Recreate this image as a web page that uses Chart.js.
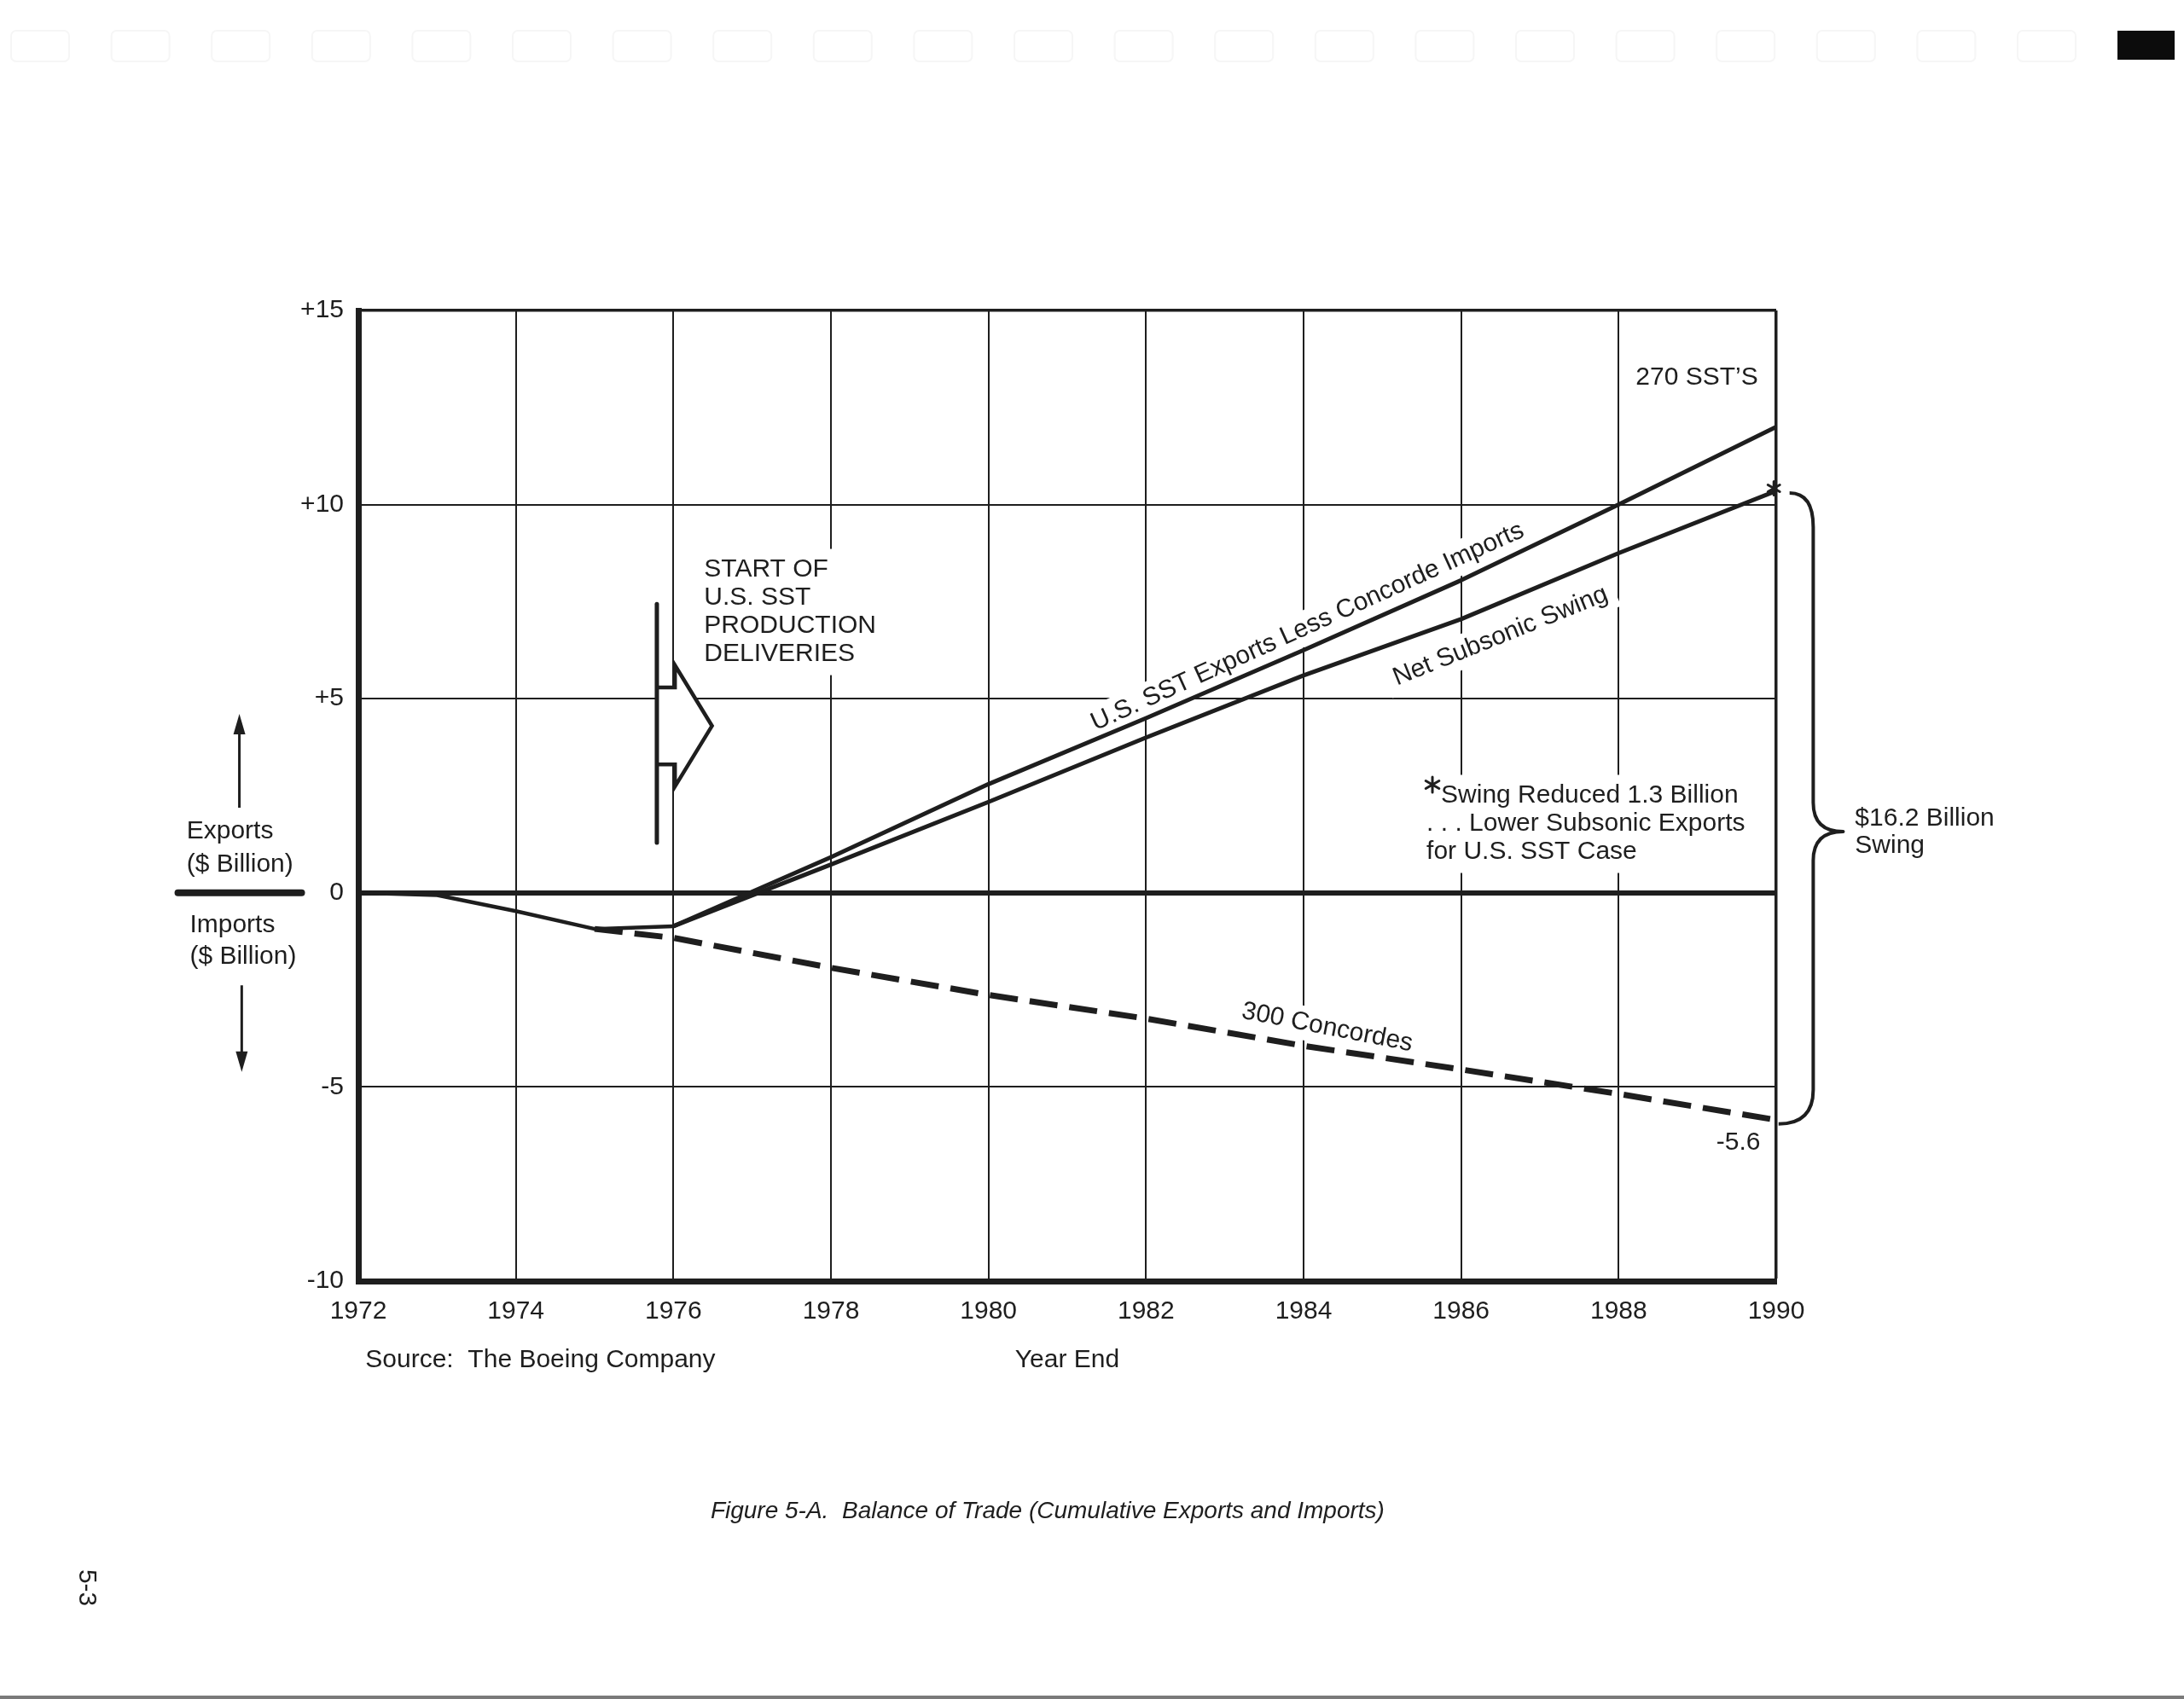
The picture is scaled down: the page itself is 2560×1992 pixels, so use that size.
<!DOCTYPE html>
<html>
<head>
<meta charset="utf-8">
<title>Balance of Trade</title>
<script src="https://cdn.jsdelivr.net/npm/chart.js@4.4.0/dist/chart.umd.min.js"></script>
<style>
  html, body { margin: 0; padding: 0; background: #fff; }
  canvas { display: block; }
</style>
</head>
<body>
<canvas id="trade" width="2560" height="1992"></canvas>
<script>
// ---- data ($ billion, cumulative) ----
const yearTicks = [1972, 1974, 1976, 1978, 1980, 1982, 1984, 1986, 1988, 1990];
const valueTicks = [-10, -5, 0, 5, 10, 15];

const earlyYears = [1972, 1973, 1974, 1975, 1976];
const earlyValues = [0, -0.06, -0.47, -0.93, -0.86];

const sstYears = [1976, 1978, 1980, 1982, 1984, 1986, 1988, 1990];
const sstValues = [-0.86, 0.92, 2.8, 4.5, 6.25, 8.05, 10.0, 12.0];
const netSwingValues = [-0.86, 0.73, 2.34, 4.0, 5.6, 7.05, 8.75, 10.35];

const concordeYears = [1975, 1976, 1978, 1980, 1982, 1984, 1986, 1988, 1990];
const concordeValues = [-0.93, -1.16, -1.93, -2.63, -3.24, -3.94, -4.55, -5.18, -5.85];

// ---- annotation placement (in year / value units) ----
const INK = '#1e1e1e';
const FAMILY = '"Liberation Sans", Arial, sans-serif';
const TEXT = '30px ' + FAMILY;

const textBlocks = [
  { lines: ['START OF', 'U.S. SST', 'PRODUCTION', 'DELIVERIES'], year: 1976.39, value: 8.32, align: 'left', mask: true },
  { lines: ['270 SST\u2019S'], year: 1989.77, value: 13.26, align: 'right' },
  { lines: ['-5.6'], year: 1989.8, value: -6.44, align: 'right' },
  { lines: ['Swing Reduced 1.3 Billion', '. . . Lower Subsonic Exports', 'for U.S. SST Case'], year: 1985.56, value: 2.5, align: 'left', mask: true, star: true },
  { lines: ['$16.2 Billion', 'Swing'], year: 1991.0, value: 1.92, align: 'left', gap: 32 },
  { lines: ['Exports', '($ Billion)'], year: 1969.82, value: 1.58, align: 'left', gap: 39 },
  { lines: ['Imports', '($ Billion)'], year: 1969.86, value: -0.83, align: 'left', gap: 37 },
  { lines: ['Source:  The Boeing Company'], year: 1972.09, value: -12.04, align: 'left' },
  { lines: ['Year End'], year: 1981.0, value: -12.04, align: 'center' },
  { lines: ['Figure 5-A.  Balance of Trade (Cumulative Exports and Imports)'], year: 1980.75, value: -15.93, align: 'center', font: 'italic 28px ' + FAMILY }
];

const slantLabels = [
  { text: 'U.S. SST Exports Less Concorde Imports', year: 1984.05, value: 6.85, angle: -24.4 },
  { text: 'Net Subsonic Swing', year: 1986.5, value: 6.61, angle: -22 },
  { text: '300 Concordes', year: 1984.3, value: -3.47, angle: 11 }
];

const startArrow = { barYear: 1975.79, barTop: 7.44, barBottom: 1.29, baseYear: 1976.02, tipYear: 1976.49, center: 4.3, shaft: 0.99, head: 1.56 };
const sideKey = { barFrom: 1969.71, barTo: 1971.28, upYear: 1970.49, upFrom: 2.19, upTo: 4.61, downYear: 1970.52, downFrom: -2.38, downTo: -4.61 };
const brace = { startYear: 1990.17, spineYear: 1990.47, tipYear: 1990.85, endYear: 1990.03, top: 10.3, tip: 1.58, bottom: -5.95 };
const asteriskAt = { year: 1989.97, value: 10.42 };
const pageNumber = { text: '5-3', year: 1968.55, value: -17.9 };

const pts = (xs, ys) => xs.map((x, i) => ({ x: x, y: ys[i] }));
const X = (chart, year) => chart.scales.x.getPixelForValue(year);
const Y = (chart, value) => chart.scales.y.getPixelForValue(value);

function blockBox(ctx, chart, b) {
  const gap = b.gap || 33;
  ctx.font = b.font || TEXT;
  const w = Math.max(...b.lines.map(t => ctx.measureText(t).width)) + (b.star ? 17 : 0);
  const x = X(chart, b.year), y = Y(chart, b.value);
  const left = b.align === 'left' ? x : b.align === 'right' ? x - w : x - w / 2;
  return { left: left, top: y - gap / 2, w: w, h: gap * b.lines.length };
}

function drawStar(ctx, x, y, r) {
  ctx.save();
  ctx.strokeStyle = INK;
  ctx.lineWidth = 3;
  ctx.lineCap = 'round';
  ctx.beginPath();
  for (let k = 0; k < 3; k++) {
    const a = Math.PI / 2 + k * Math.PI / 3;
    ctx.moveTo(x + r * Math.cos(a), y + r * Math.sin(a));
    ctx.lineTo(x - r * Math.cos(a), y - r * Math.sin(a));
  }
  ctx.stroke();
  ctx.restore();
}

function arrowPath(ctx, chart, closed) {
  const a = startArrow;
  const xb = X(chart, a.barYear), x0 = X(chart, a.baseYear), xt = X(chart, a.tipYear);
  ctx.beginPath();
  ctx.moveTo(xb, Y(chart, a.center + a.shaft));
  ctx.lineTo(x0, Y(chart, a.center + a.shaft));
  ctx.lineTo(x0, Y(chart, a.center + a.head));
  ctx.lineTo(xt, Y(chart, a.center));
  ctx.lineTo(x0, Y(chart, a.center - a.head));
  ctx.lineTo(x0, Y(chart, a.center - a.shaft));
  ctx.lineTo(xb, Y(chart, a.center - a.shaft));
  if (closed) ctx.closePath();
}

function arrowHead(ctx, x, y, dir) {
  ctx.beginPath();
  ctx.moveTo(x, y);
  ctx.lineTo(x - 7, y - dir * 24);
  ctx.lineTo(x + 7, y - dir * 24);
  ctx.closePath();
  ctx.fill();
}

const figureArt = {
  id: 'figureArt',
  beforeDatasetsDraw(chart) {
    // white patches that break the grid behind the lettering, as in the print
    const ctx = chart.ctx;
    ctx.save();
    ctx.fillStyle = '#fff';
    textBlocks.filter(b => b.mask).forEach(b => {
      const box = blockBox(ctx, chart, b);
      ctx.fillRect(box.left - 12, box.top - 8, box.w + 24, box.h + 16);
    });
    ctx.font = TEXT;
    slantLabels.forEach(l => {
      const w = ctx.measureText(l.text).width;
      ctx.save();
      ctx.translate(X(chart, l.year), Y(chart, l.value));
      ctx.rotate(l.angle * Math.PI / 180);
      ctx.fillRect(-w / 2 - 10, -20, w + 20, 40);
      ctx.restore();
    });
    arrowPath(chart.ctx, chart, true);
    ctx.fill();
    ctx.restore();
  },
  afterDatasetsDraw(chart) {
    const ctx = chart.ctx;
    ctx.save();
    ctx.fillStyle = INK;
    ctx.strokeStyle = INK;

    // text blocks
    textBlocks.forEach(b => {
      const gap = b.gap || 33;
      const x = X(chart, b.year), y = Y(chart, b.value);
      ctx.font = b.font || TEXT;
      ctx.textAlign = b.align;
      ctx.textBaseline = 'middle';
      b.lines.forEach((t, i) => ctx.fillText(t, x + (b.star && i === 0 ? 17 : 0), y + i * gap));
      if (b.star) drawStar(ctx, x + 7, y - 13, 9);
    });

    // slanted line labels
    ctx.font = TEXT;
    ctx.textAlign = 'center';
    slantLabels.forEach(l => {
      ctx.save();
      ctx.translate(X(chart, l.year), Y(chart, l.value));
      ctx.rotate(l.angle * Math.PI / 180);
      ctx.fillText(l.text, 0, 0);
      ctx.restore();
    });

    // start-of-deliveries marker
    ctx.lineWidth = 5;
    ctx.lineCap = 'round';
    ctx.beginPath();
    ctx.moveTo(X(chart, startArrow.barYear), Y(chart, startArrow.barTop));
    ctx.lineTo(X(chart, startArrow.barYear), Y(chart, startArrow.barBottom));
    ctx.stroke();
    ctx.lineCap = 'butt';
    ctx.lineJoin = 'miter';
    ctx.lineWidth = 4.5;
    arrowPath(ctx, chart, false);
    ctx.stroke();

    // exports / imports key on the left
    ctx.lineCap = 'round';
    ctx.lineWidth = 8;
    ctx.beginPath();
    ctx.moveTo(X(chart, sideKey.barFrom), Y(chart, 0));
    ctx.lineTo(X(chart, sideKey.barTo), Y(chart, 0));
    ctx.stroke();
    ctx.lineWidth = 3;
    ctx.lineCap = 'butt';
    const ux = X(chart, sideKey.upYear), dx = X(chart, sideKey.downYear);
    ctx.beginPath();
    ctx.moveTo(ux, Y(chart, sideKey.upFrom));
    ctx.lineTo(ux, Y(chart, sideKey.upTo) + 10);
    ctx.moveTo(dx, Y(chart, sideKey.downFrom));
    ctx.lineTo(dx, Y(chart, sideKey.downTo) - 10);
    ctx.stroke();
    arrowHead(ctx, ux, Y(chart, sideKey.upTo), -1);
    arrowHead(ctx, dx, Y(chart, sideKey.downTo), 1);

    // asterisk at the end of the net swing line
    drawStar(ctx, X(chart, asteriskAt.year), Y(chart, asteriskAt.value), 8);

    // brace spanning the total swing
    const yt = Y(chart, brace.top), yb = Y(chart, brace.bottom), yp = Y(chart, brace.tip);
    const xs = X(chart, brace.startYear), xv = X(chart, brace.spineYear);
    const xt = X(chart, brace.tipYear), xe = X(chart, brace.endYear);
    ctx.lineWidth = 4;
    ctx.lineJoin = 'round';
    ctx.beginPath();
    ctx.moveTo(xs, yt);
    ctx.quadraticCurveTo(xv, yt, xv, yt + 40);
    ctx.lineTo(xv, yp - 34);
    ctx.quadraticCurveTo(xv, yp, xt, yp);
    ctx.quadraticCurveTo(xv, yp, xv, yp + 34);
    ctx.lineTo(xv, yb - 40);
    ctx.quadraticCurveTo(xv, yb, xe, yb);
    ctx.stroke();

    // page number, printed sideways
    ctx.save();
    ctx.translate(X(chart, pageNumber.year), Y(chart, pageNumber.value));
    ctx.rotate(Math.PI / 2);
    ctx.font = '30px ' + FAMILY;
    ctx.textAlign = 'center';
    ctx.fillText(pageNumber.text, 0, 0);
    ctx.restore();

    ctx.restore();
  },
  afterDraw(chart) {
    // very faint register boxes and black tab along the top of the sheet
    const ctx = chart.ctx;
    ctx.save();
    ctx.strokeStyle = '#f6f6f6';
    ctx.lineWidth = 2;
    for (let i = 0; i < 21; i++) {
      ctx.beginPath();
      ctx.roundRect(13 + i * 117.6, 36, 68, 36, 6);
      ctx.stroke();
    }
    ctx.fillStyle = '#0c0c0c';
    ctx.fillRect(2482, 36, 67, 34);
    ctx.fillStyle = '#7a7a7a';
    ctx.fillRect(0, chart.height - 4, chart.width, 4);
    ctx.restore();
  }
};

const gridWidth = (edge, thick) => c => {
  const v = c.tick ? c.tick.value : null;
  if (v === thick) return 6;
  if (v === edge) return 3.5;
  return 2;
};

new Chart(document.getElementById('trade'), {
  type: 'line',
  data: {
    datasets: [
      { label: 'Cumulative to 1976', data: pts(earlyYears, earlyValues), borderWidth: 4.5 },
      { label: 'U.S. SST Exports Less Concorde Imports', data: pts(sstYears, sstValues), borderWidth: 5 },
      { label: 'Net Subsonic Swing', data: pts(sstYears, netSwingValues), borderWidth: 5 },
      { label: '300 Concordes', data: pts(concordeYears, concordeValues), borderWidth: 7, borderDash: [33, 14], borderCapStyle: 'butt' }
    ].map(d => Object.assign({ borderColor: INK, pointRadius: 0, tension: 0, fill: false, borderJoinStyle: 'round' }, d))
  },
  options: {
    responsive: false,
    devicePixelRatio: 1,
    animation: false,
    layout: { padding: { top: 364, right: 478, bottom: 0, left: 0 } },
    plugins: {
      legend: { display: false },
      tooltip: { enabled: false }
    },
    scales: {
      x: {
        type: 'linear',
        min: yearTicks[0],
        max: yearTicks[yearTicks.length - 1],
        afterFit: s => { s.height = 490; },
        afterBuildTicks: s => { s.ticks = yearTicks.map(v => ({ value: v })); },
        ticks: { padding: 18, color: INK, font: { family: FAMILY, size: 30 }, maxRotation: 0, autoSkip: false, callback: v => String(v) },
        grid: { color: INK, lineWidth: gridWidth(1990, null), drawTicks: false },
        border: { color: INK, width: 7 }
      },
      y: {
        min: valueTicks[0],
        max: valueTicks[valueTicks.length - 1],
        afterFit: s => { s.width = 420; },
        afterBuildTicks: s => { s.ticks = valueTicks.map(v => ({ value: v })); },
        ticks: { padding: 17, color: INK, font: { family: FAMILY, size: 30 }, callback: v => (v > 0 ? '+' + v : String(v)) },
        grid: { color: INK, lineWidth: gridWidth(15, 0), drawTicks: false },
        border: { color: INK, width: 7 }
      }
    }
  },
  plugins: [figureArt]
});
</script>
</body>
</html>
